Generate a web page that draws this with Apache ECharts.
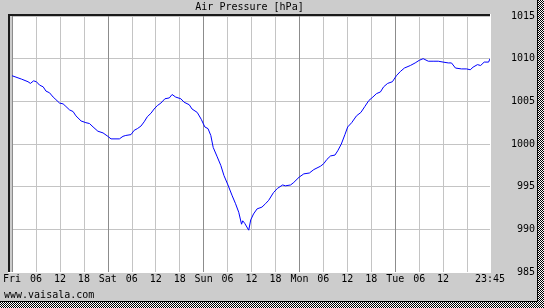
<!DOCTYPE html>
<html>
<head>
<meta charset="utf-8">
<script src="https://cdn.jsdelivr.net/npm/echarts@6/dist/echarts.min.js"></script>
<style>
  html, body { margin: 0; padding: 0; background: #cccccc; }
  #chart { width: 544px; height: 308px; }
</style>
</head>
<body>
<div id="chart"></div>
<script>
// hours since Fri 00:00
var hours = [0, 2.4, 4.0, 4.6, 5.4, 6.1, 6.9, 7.8, 8.5, 9.4, 10.3, 11.0, 11.9, 12.8, 13.5, 14.4,
  15.3, 16.0, 17.3, 18.5, 19.4, 20.3, 21.5, 22.8, 24.0, 24.8, 26.9, 27.8, 28.5, 29.8,
  30.6, 31.4, 32.3, 33.1, 33.9, 34.8, 35.6, 36.4, 37.3, 38.3, 39.4, 40.1, 41.0, 42.3,
  43.1, 44.4, 45.1, 46.4, 47.4, 48.3, 49.1, 49.8, 50.4, 51.4, 52.3, 53.1, 54.1, 55.1,
  56.0, 56.8, 57.5, 57.8, 58.3, 58.8, 59.3, 59.8, 60.5, 61.4, 62.6, 63.5, 64.3, 65.5,
  66.5, 67.8, 68.5, 69.8, 70.6, 71.9, 73.1, 74.5, 75.6, 77.3, 78.1, 78.9, 79.8, 80.9,
  81.6, 82.5, 83.4, 84.1, 85.1, 86.3, 87.4, 88.4, 89.4, 90.4, 91.3, 92.3, 93.1, 94.1,
  95.3, 96.3, 97.3, 98.3, 99.8, 101.0, 102.0, 103.0, 104.3, 105.5, 106.8, 108.0, 109.3, 110.1,
  111.1, 112.6, 113.9, 114.8, 115.5, 116.6, 117.4, 118.3, 119.4, 119.75];
var pressure = [1008.0, 1007.6, 1007.3, 1007.1, 1007.4, 1007.3, 1006.9, 1006.7, 1006.2, 1006.0, 1005.5, 1005.2, 1004.8, 1004.7, 1004.4, 1004.0,
  1003.8, 1003.3, 1002.7, 1002.5, 1002.4, 1002.0, 1001.5, 1001.3, 1000.9, 1000.6, 1000.6, 1000.9, 1001.0, 1001.1,
  1001.6, 1001.8, 1002.1, 1002.6, 1003.2, 1003.6, 1004.1, 1004.5, 1004.8, 1005.3, 1005.4, 1005.8, 1005.5, 1005.3,
  1004.9, 1004.6, 1004.1, 1003.7, 1002.9, 1002.0, 1001.8, 1001.0, 999.6, 998.5, 997.5, 996.3, 995.2, 994.0,
  993.0, 992.0, 990.6, 991.0, 990.7, 990.5, 989.9, 991.1, 991.8, 992.4, 992.6, 993.0, 993.4, 994.3,
  994.8, 995.2, 995.1, 995.2, 995.5, 996.1, 996.5, 996.6, 997.0, 997.4, 997.7, 998.2, 998.6, 998.7,
  999.2, 1000.0, 1001.1, 1002.0, 1002.5, 1003.3, 1003.7, 1004.4, 1005.1, 1005.5, 1005.9, 1006.1, 1006.7, 1007.1,
  1007.3, 1008.0, 1008.5, 1008.9, 1009.2, 1009.5, 1009.8, 1010.0, 1009.7, 1009.7, 1009.7, 1009.6, 1009.5, 1009.5,
  1008.9, 1008.8, 1008.8, 1008.7, 1009.0, 1009.3, 1009.2, 1009.6, 1009.6, 1010.0];

var tickHours = [0, 6, 12, 18, 24, 30, 36, 42, 48, 54, 60, 66, 72, 78, 84, 90, 96, 102, 108, 114, 119.75];
var tickLabels = ['Fri', '06', '12', '18', 'Sat', '06', '12', '18', 'Sun', '06', '12', '18',
  'Mon', '06', '12', '18', 'Tue', '06', '12', '', '23:45'];

var data = hours.map(function (h, i) { return [h, pressure[i]]; });

var mono = 'DejaVu Sans Mono';

// 2x2 checker for the shadow edge
var chk = document.createElement('canvas');
chk.width = 2; chk.height = 2;
var cx = chk.getContext('2d');
cx.fillStyle = '#ffffff'; cx.fillRect(0, 0, 2, 2);
cx.fillStyle = '#000000'; cx.fillRect(0, 0, 1, 1); cx.fillRect(1, 1, 1, 1);

var myChart = echarts.init(document.getElementById('chart'));

var option = {
  backgroundColor: '#cccccc',
  animation: false,
  grid: { left: 10, top: 16, right: 54, bottom: 36, show: true, backgroundColor: '#ffffff', borderWidth: 0 },
  xAxis: {
    type: 'value',
    min: 0,
    max: 119.75,
    interval: 6,
    axisLine: { show: false },
    axisTick: { show: false },
    axisLabel: {
      margin: 2,
      showMinLabel: true,
      showMaxLabel: true,
      color: '#000',
      fontFamily: mono,
      fontSize: 10,
      formatter: function (v) {
        var i = tickHours.indexOf(v);
        return i < 0 ? '' : tickLabels[i];
      }
    },
    splitLine: {
      show: true,
      lineStyle: { color: ['#8c8c8c', '#c4c4c4', '#c4c4c4', '#c4c4c4'], width: 1 }
    }
  },
  yAxis: {
    type: 'value',
    position: 'right',
    min: 985,
    max: 1015,
    interval: 5,
    axisLine: { show: false },
    axisTick: { show: false },
    axisLabel: {
      align: 'right',
      margin: 45,
      color: '#000',
      fontFamily: mono,
      fontSize: 10,
      showMinLabel: true,
      showMaxLabel: true,
      formatter: function (v) { return String(v); }
    },
    splitLine: { show: true, lineStyle: { color: '#c4c4c4', width: 1 } }
  },
  series: [{
    type: 'line',
    data: data,
    showSymbol: false,
    symbol: 'none',
    smooth: false,
    lineStyle: { color: '#0000ff', width: 1 },
    z: 3
  }],
  graphic: [
    { type: 'rect', shape: { x: 8, y: 14, width: 2, height: 258 }, style: { fill: '#1a1a1a' }, z: 100 },
    { type: 'rect', shape: { x: 8, y: 14, width: 482, height: 2 }, style: { fill: '#1a1a1a' }, z: 100 },
    { type: 'rect', shape: { x: 490, y: 14, width: 1, height: 259 }, style: { fill: '#ffffff' }, z: 100 },
    { type: 'rect', shape: { x: 8, y: 272, width: 483, height: 1 }, style: { fill: '#ffffff' }, z: 100 },
    { type: 'rect', shape: { x: 537, y: 0, width: 1, height: 302 }, style: { fill: '#000000' }, z: 100 },
    { type: 'rect', shape: { x: 0, y: 301, width: 538, height: 1 }, style: { fill: '#000000' }, z: 100 },
    { type: 'rect', shape: { x: 538, y: 0, width: 6, height: 308 }, style: { fill: { image: chk, repeat: 'repeat' } }, z: 100 },
    { type: 'rect', shape: { x: 0, y: 302, width: 544, height: 6 }, style: { fill: { image: chk, repeat: 'repeat' } }, z: 100 },
    {
      type: 'text', x: 249.5, y: 7, z: 100,
      style: { text: 'Air Pressure [hPa]', fill: '#000', font: '10px "DejaVu Sans Mono"', textAlign: 'center', textVerticalAlign: 'middle' }
    },
    {
      type: 'text', x: 4, y: 295, z: 100,
      style: { text: 'www.vaisala.com', fill: '#000', font: '10px "DejaVu Sans Mono"', textAlign: 'left', textVerticalAlign: 'middle' }
    }
  ]
};

option && myChart.setOption(option);
</script>
</body>
</html>
